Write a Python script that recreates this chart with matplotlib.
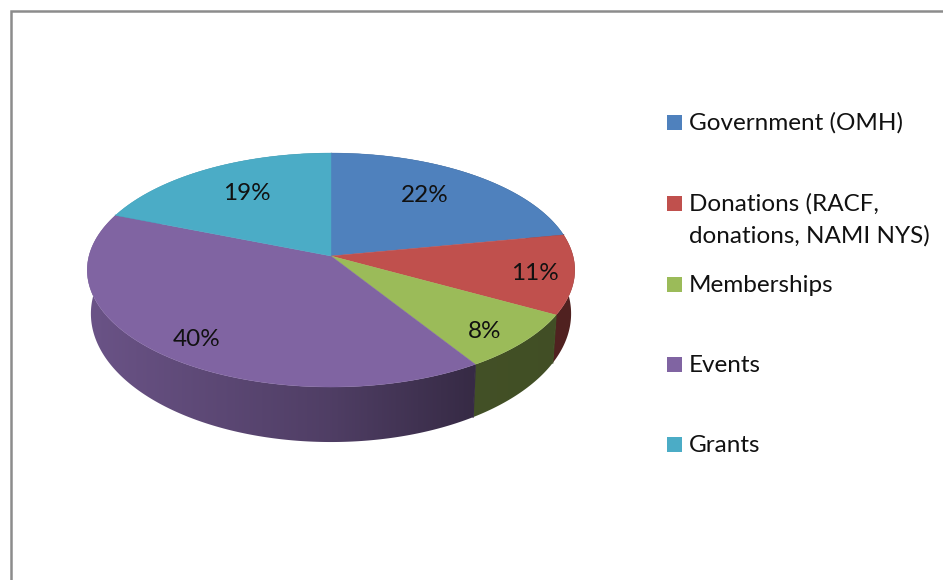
import numpy as np
import matplotlib
matplotlib.use('Agg')
import matplotlib.pyplot as plt
from matplotlib.patches import Polygon, Rectangle

plt.rcParams['font.family'] = ['Lato', 'DejaVu Sans']

categories = ['Government (OMH)', 'Donations (RACF,\ndonations, NAMI NYS)', 'Memberships', 'Events', 'Grants']
values = [22, 11, 8, 40, 19]
colors = ['#4f81bd', '#c0504d', '#9bbb59', '#8064a2', '#4bacc6']

# where the percent labels sit, in pixels
label_x = [425, 535, 485, 197, 247]
label_y = [196, 274, 332, 339, 194]
legend_y = [122, 203, 284, 364, 444]

# pie geometry, pixels
cx, cy = 331, 256
rx, ry = 242, 115.3
persp = 0.12
depth, wall_sx, wall_sy = 42.3, 0.985, 1.097


def top_edge(t):
    w = 1 + persp * np.cos(t)
    return cx + rx * np.sin(t) / w, cy - ry * np.cos(t) / w


def bottom_edge(t):
    x, y = top_edge(t)
    return cx + (x - cx) * wall_sx, cy + depth + (y - cy) * wall_sy


def wall_shade(x):
    return np.interp(x, [90, 330, 470, 560], [0.83, 0.62, 0.43, 0.42])


fig = plt.figure(figsize=(9.43, 5.8), dpi=100)
ax = fig.add_axes([0, 0, 1, 1])
ax.axis('off')

# frame
ax.plot([943, 10.5, 10.5], [11, 11, 580], color='#8c8c8c', lw=1.8, solid_joinstyle='miter')

edges = np.concatenate([[0], np.cumsum(values)]) / sum(values) * 2 * np.pi

# side wall first, the top covers what is behind
grad_x = np.arange(0, 944)
for i, c in enumerate(colors):
    base = np.array(matplotlib.colors.to_rgb(c))
    ts = np.linspace(edges[i], edges[i + 1], 200)
    tx, ty = top_edge(ts)
    bx, by = bottom_edge(ts[::-1])
    wall = Polygon(np.column_stack([np.r_[tx, bx], np.r_[ty, by]]), closed=True,
                   transform=ax.transData, facecolor='none', edgecolor='none')
    ax.add_patch(wall)
    grad = wall_shade(grad_x)[None, :, None] * base[None, None, :]
    im = ax.imshow(grad, extent=(0, 943, 580, 0), aspect='auto', interpolation='bilinear', zorder=1)
    im.set_clip_path(wall)
    # closes the light seam between two walls
    x0, y0 = top_edge(edges[i])
    x1, y1 = bottom_edge(edges[i])
    ax.plot([x0, x1], [y0, y1], color=wall_shade(x0) * base, lw=0.9, zorder=1.5)

# top surface
for i, c in enumerate(colors):
    ts = np.linspace(edges[i], edges[i + 1], 200)
    xs, ys = top_edge(ts)
    pts = np.column_stack([np.r_[cx, xs], np.r_[cy, ys]])
    ax.add_patch(Polygon(pts, closed=True, facecolor=c, edgecolor=c, lw=0.3, zorder=2))

for v, x, y in zip(values, label_x, label_y):
    ax.text(x, y, '%d%%' % v, ha='center', va='center', fontsize=17.5, color='#111111', zorder=3)

# legend
for name, c, y in zip(categories, colors, legend_y):
    ax.add_patch(Rectangle((667, y - 7), 15, 15, facecolor=c, edgecolor='none'))
    lines = name.split('\n')
    for j, line in enumerate(lines):
        ax.text(689, y + 1 + j * 32, line, ha='left', va='center', fontsize=17.5, color='#111111')

ax.set_xlim(0, 943)
ax.set_ylim(580, 0)

fig.savefig('out.png', dpi=100)
